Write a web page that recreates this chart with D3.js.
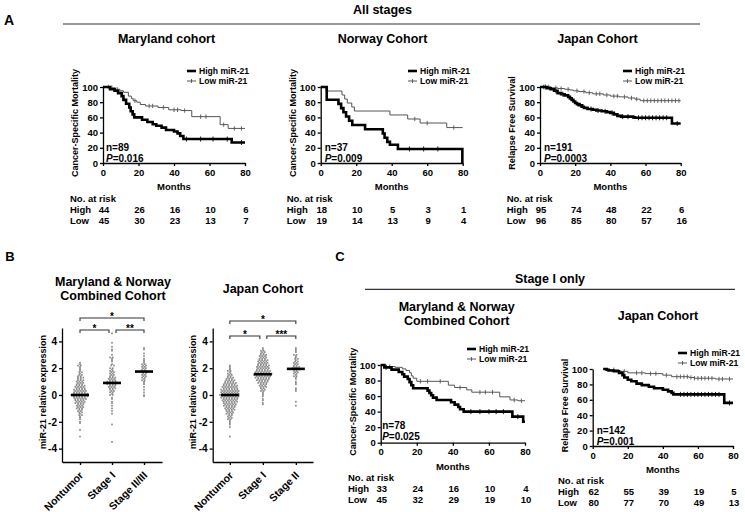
<!DOCTYPE html>
<html><head><meta charset="utf-8">
<script src="https://cdn.jsdelivr.net/npm/d3@7"></script>
<style>
body{margin:0;background:#fff}
svg{display:block;font-family:"Liberation Sans",Arial,Helvetica,sans-serif;font-weight:bold}
</style></head><body><svg id="c" width="745" height="512"></svg>
<script>
// ---------------- DATA ----------------
const kmXTicks = [0, 20, 40, 60, 80];
const kmYTicks = [0, 20, 40, 60, 80, 100];
const riskTimes = [0, 20, 40, 60, 80];

// Panel A – Maryland cohort (month, %)
const mdHigh = [[0,100],[4,97],[6.5,95],[8.5,92],[10.5,88],[11.5,83],[13,78],[14.8,73],[15.6,68],[16.7,64],[17.6,60],[22,57],[25,54],[28,51],[30,49],[33,46.5],[35.5,43.5],[40,41.5],[42,39],[43.5,35.5],[45.3,31.5],[72.5,27],[80,27]];
const mdLow = [[0,100],[4,99],[7,97],[9.5,95],[11.5,93],[14.3,88],[16,85],[17,82],[19,80],[21,77],[24,75],[31,73],[37,70],[44,69],[50,61],[66,50.5],[70.5,45.5],[80,45.5]];
const mdHighCens = [47, 55, 62, 70, 78];
const mdLowCens = [3, 5, 8, 18, 26, 28, 34, 40, 42, 46, 55, 58, 68, 74, 78];
const mdRiskHigh = [44, 26, 16, 10, 6];
const mdRiskLow = [45, 30, 23, 13, 7];

// Panel A – Norway cohort
const noHigh = [[0,100],[3.4,83.3],[10,77.8],[11.5,72.2],[12.8,66.7],[14.3,61.1],[16,55.6],[17.8,50],[25,44.4],[35,38.9],[36,33.3],[37.5,27.8],[39,24],[43.5,18.5],[79.8,0]];
const noLow = [[0,100],[3,94.7],[12,89.5],[13.5,84.2],[15,78.9],[17.5,73.7],[19,68.4],[39,63.2],[49,57.9],[56,52.6],[71,46.6],[80,46.6]];
const noHighCens = [50, 58, 66];
const noLowCens = [53, 60, 75];
const noRiskHigh = [18, 10, 5, 3, 1];
const noRiskLow = [19, 14, 13, 9, 4];

// Panel A – Japan cohort
const jpHigh = [[0,100],[4,98.5],[6,97],[8,95],[10,92],[12,90.5],[14,89],[16,87],[17,85],[18,83],[19,81],[20,79],[21,77.5],[22,76],[24,74],[25,72.5],[27,71],[30,70],[32,69],[35,68],[38,67],[40,66],[42,64],[44,62],[46,61],[53,60],[54,59.5],[75,52],[80,52]];
const jpLow = [[0,100],[6,99],[10,98],[14,97],[17,96],[19,95],[22,94],[26,92.5],[30,91],[36,89.5],[40,88],[45,87],[50,85.5],[54,84],[57,82],[80,82]];
const jpHighCens = [3, 9, 13, 23, 29, 33, 37, 41, 47, 50, 56, 58, 60, 62, 64, 66, 68, 70, 72, 78];
const jpLowCens = [2, 5, 9, 12, 16, 21, 25, 28, 32, 34, 38, 42, 44, 48, 52, 55, 59, 61, 63, 65, 67, 69, 71, 73, 75, 77, 79];
const jpRiskHigh = [95, 74, 48, 22, 6];
const jpRiskLow = [96, 85, 80, 57, 16];

// Panel C – Maryland & Norway combined, stage I
const cmHigh = [[0,100],[2,97],[6,94],[10,91],[12,88],[13,85],[15,82],[16,78],[17,74],[18,70],[26,67],[27,64],[28,61],[29,58],[31,55],[39,52],[41,49],[43,46],[44,43],[46,40],[73,33.5],[79,27],[80,27]];
const cmLow = [[0,100],[3,98],[8,97],[12,95],[14,93],[16,90],[17,86],[18,83],[20,79],[37.5,74],[41,71],[47.7,68],[50.5,65],[66,59],[71.7,55],[76,54],[80,54]];
const cmHighCens = [3, 50, 55, 60, 64, 68, 76];
const cmLowCens = [5, 22, 26, 33, 44, 55, 58, 62, 74, 78];
const cmRiskHigh = [33, 24, 16, 10, 4];
const cmRiskLow = [45, 32, 29, 19, 10];

// Panel C – Japan, stage I
const cjHigh = [[6,100],[8,99],[9,98],[12,97],[15,95],[17,92],[18,89],[20,86],[22,84],[25,81],[28,79],[32,77],[35,75],[40,73],[43,71],[45,69],[46,67],[75,56],[80,56]];
const cjLow = [[6,100],[8,99.5],[10,99],[15,97],[20,95],[30,94],[40,92],[45,90],[55,89],[58,88],[70,87],[80,87]];
const cjHighCens = [50, 52, 54, 56, 58, 60, 62, 64, 66, 68, 70, 72, 78];
const cjLowCens = [12, 18, 25, 28, 33, 36, 42, 48, 50, 52, 54, 56, 58, 60, 62, 64, 66, 68, 72, 74, 78];
const cjRiskHigh = [62, 55, 39, 19, 5];
const cjRiskLow = [80, 77, 70, 49, 13];

// Panel B – dot plots: [value, number of dots at that value]
const bCatsMN = ["Nontumor", "Stage I", "Stage II/III"];
const bCatsJP = ["Nontumor", "Stage I", "Stage II"];
const mnNontumor = [[2.4,1],[2.3,1],[2.2,2],[2.1,1],[2.0,1],[1.9,1],[1.8,1],[1.7,2],[1.6,1],[1.5,2],[1.4,2],[1.3,3],[1.2,2],[1.1,3],[1.0,3],[0.9,3],[0.8,3],[0.7,4],[0.6,4],[0.5,4],[0.4,5],[0.3,5],[0.2,5],[0.1,6],[0.0,7],[-0.1,6],[-0.2,5],[-0.3,5],[-0.4,4],[-0.5,4],[-0.6,4],[-0.7,3],[-0.8,3],[-0.9,3],[-1.0,3],[-1.1,2],[-1.2,2],[-1.3,2],[-1.4,1],[-1.5,2],[-1.6,1],[-1.7,1],[-1.8,1],[-2.0,1],[-2.1,1],[-2.6,1],[-3.1,1]];
const mnStageI = [[4.6,1],[3.9,1],[3.6,1],[3.4,1],[3.3,1],[3.0,1],[2.8,2],[2.7,1],[2.6,1],[2.5,1],[2.3,1],[2.2,2],[2.0,2],[1.9,1],[1.8,2],[1.7,2],[1.6,2],[1.5,2],[1.4,2],[1.3,3],[1.2,3],[1.1,3],[1.0,4],[0.9,4],[0.8,4],[0.7,3],[0.6,3],[0.5,3],[0.4,2],[0.3,2],[0.2,2],[0.1,1],[0.0,2],[-0.2,1],[-0.3,1],[-0.5,1],[-0.6,1],[-0.8,1],[-1.0,1],[-1.2,1],[-1.4,1],[-2.2,1],[-3.5,1]];
const mnStageII = [[3.5,1],[3.4,1],[3.1,1],[2.9,1],[2.7,1],[2.6,1],[2.5,1],[2.4,1],[2.3,2],[2.2,2],[2.1,2],[2.0,2],[1.9,2],[1.8,3],[1.7,3],[1.6,2],[1.5,2],[1.4,2],[1.3,2],[1.2,1],[1.1,2],[1.0,1],[0.9,1],[0.8,1],[0.6,1],[0.4,1],[0.2,1],[0.0,1],[-0.1,1]];
const jpNontumor = [[2.2,1],[2.1,1],[2.0,1],[1.9,1],[1.8,2],[1.7,1],[1.6,2],[1.5,2],[1.4,2],[1.3,3],[1.2,3],[1.1,4],[1.0,4],[0.9,5],[0.8,5],[0.7,6],[0.6,6],[0.5,6],[0.4,7],[0.3,7],[0.2,7],[0.1,7],[0.0,8],[-0.1,7],[-0.2,7],[-0.3,6],[-0.4,6],[-0.5,6],[-0.6,5],[-0.7,5],[-0.8,5],[-0.9,4],[-1.0,4],[-1.1,4],[-1.2,3],[-1.3,3],[-1.4,3],[-1.5,2],[-1.6,2],[-1.7,2],[-1.8,2],[-1.9,1],[-2.0,1],[-2.1,1],[-2.2,1],[-2.4,1],[-3.1,1]];
const jpStageI = [[3.5,1],[3.4,1],[3.3,2],[3.2,2],[3.1,2],[3.0,3],[2.9,3],[2.8,3],[2.7,3],[2.6,4],[2.5,4],[2.4,4],[2.3,4],[2.2,5],[2.1,5],[2.0,5],[1.9,5],[1.8,6],[1.7,6],[1.6,7],[1.5,7],[1.4,6],[1.3,6],[1.2,5],[1.1,5],[1.0,4],[0.9,4],[0.8,3],[0.7,3],[0.6,3],[0.5,2],[0.4,2],[0.3,2],[0.2,1],[0.1,1],[0.0,1],[-0.1,1],[-0.3,1],[-0.4,1],[-0.6,1],[-0.7,1]];
const jpStageII = [[3.5,1],[3.4,1],[3.3,1],[3.2,1],[3.0,2],[2.9,1],[2.8,1],[2.7,2],[2.6,1],[2.5,2],[2.4,2],[2.3,2],[2.2,2],[2.1,3],[2.0,3],[1.9,3],[1.8,2],[1.7,2],[1.6,2],[1.5,1],[1.4,2],[1.3,1],[1.2,1],[1.0,1],[0.9,1],[0.8,1],[0.5,1],[0.4,1],[0.3,1],[-0.5,1],[-0.8,1]];
const mnMeans = [0, 0.9, 1.75];
const jpMeans = [0, 1.55, 1.95];
const bYTicks = [-4, -2, 0, 2, 4];
const mnSig = [["Nontumor","Stage I","*"],["Stage I","Stage II/III","**"],["Nontumor","Stage II/III","*"]];
const jpSig = [["Nontumor","Stage I","*"],["Stage I","Stage II","***"],["Nontumor","Stage II","*"]];

// ---------------- DRAWING ----------------
const svg = d3.select("#c");
svg.append("rect").attr("width",745).attr("height",512).attr("fill","#fff");

function txt(x, y, s, size, anchor) {
  return svg.append("text").attr("x", x).attr("y", y).attr("font-size", size)
    .attr("text-anchor", anchor || "start").attr("fill", "#000").text(s);
}
function styleAxis(g, fs) {
  g.select(".domain").attr("stroke", "#000").attr("stroke-width", 1.3);
  g.selectAll(".tick line").attr("stroke", "#000").attr("stroke-width", 1.3);
  g.selectAll(".tick text").attr("font-size", fs).attr("font-weight", "bold").attr("fill", "#000")
    .attr("font-family", '"Liberation Sans",Arial,sans-serif');
}
function stepVal(curve, t) {
  let v = curve[0][1];
  for (const p of curve) if (p[0] <= t) v = p[1];
  return v;
}

function km(o) {
  const x = d3.scaleLinear().domain([0, 80]).range([o.x0, o.x1]);
  const y = d3.scaleLinear().domain([0, 100]).range([o.yb, o.yt]);
  const line = d3.line().x(d => x(d[0])).y(d => y(d[1])).curve(d3.curveStepAfter);
  svg.append("path").datum(o.low).attr("d", line).attr("fill", "none").attr("stroke", "#555").attr("stroke-width", 1);
  svg.append("g").selectAll("line").data(o.lowC).join("line")
    .attr("x1", d => x(d)).attr("x2", d => x(d))
    .attr("y1", d => y(stepVal(o.low, d)) - 2.2).attr("y2", d => y(stepVal(o.low, d)) + 2.2)
    .attr("stroke", "#555").attr("stroke-width", 0.9);
  svg.append("path").datum(o.high).attr("d", line).attr("fill", "none").attr("stroke", "#000").attr("stroke-width", 2.6);
  svg.append("g").selectAll("line").data(o.highC).join("line")
    .attr("x1", d => x(d)).attr("x2", d => x(d))
    .attr("y1", d => y(stepVal(o.high, d)) - 2.5).attr("y2", d => y(stepVal(o.high, d)) + 2.5)
    .attr("stroke", "#000").attr("stroke-width", 0.9);

  const ax = svg.append("g").attr("transform", `translate(0,${o.yb})`)
    .call(d3.axisBottom(x).tickValues(kmXTicks).tickSize(3).tickPadding(3).tickSizeOuter(0));
  styleAxis(ax, 9.5);
  const ay = svg.append("g").attr("transform", `translate(${o.x0},0)`)
    .call(d3.axisLeft(y).tickValues(kmYTicks).tickSize(3).tickPadding(2).tickSizeOuter(0));
  styleAxis(ay, 9.5);

  o.title.forEach((s, i) => txt(o.tx, o.ty + i * 14, s, 12.5, "middle"));
  svg.append("text").attr("transform", `translate(${o.x0 - 25},${(o.yt + o.yb) / 2 - 2}) rotate(-90)`)
    .attr("text-anchor", "middle").attr("font-size", 9).text(o.ylab);
  txt((o.x0 + o.x1) / 2, o.yb + 27, "Months", 9.5, "middle");
  const lx = o.lx, ly = o.ly;
  svg.append("line").attr("x1", lx).attr("x2", lx + 9).attr("y1", ly).attr("y2", ly).attr("stroke", "#000").attr("stroke-width", 2.6);
  svg.append("line").attr("x1", lx).attr("x2", lx + 9).attr("y1", ly + 10).attr("y2", ly + 10).attr("stroke", "#555").attr("stroke-width", 1);
  svg.append("line").attr("x1", lx + 4.5).attr("x2", lx + 4.5).attr("y1", ly + 8).attr("y2", ly + 12).attr("stroke", "#555").attr("stroke-width", 0.9);
  txt(lx + 12, ly + 3, "High miR-21", 8.6);
  txt(lx + 12, ly + 13, "Low miR-21", 8.6);
  txt(o.x0 + o.nx, o.ny, o.n, 10);
  const p = txt(o.x0 + o.nx, o.ny + 10.5, "", 10);
  p.append("tspan").attr("font-style", "italic").text("P");
  p.append("tspan").text("=" + o.p);
  txt(o.rx, o.ry, "No. at risk", 9.5);
  txt(o.rx, o.ry + 11, "High", 9.5);
  txt(o.rx, o.ry + 22, "Low", 9.5);
  riskTimes.forEach((t, i) => {
    txt(x(t) + 1, o.ry + 11, o.rh[i], 9.5, "middle");
    txt(x(t) + 1, o.ry + 22, o.rl[i], 9.5, "middle");
  });
}

// Panel A
txt(9, 25, "A", 14, "middle");
txt(382.5, 14, "All stages", 12.5, "middle");
svg.append("line").attr("x1", 63).attr("x2", 700).attr("y1", 24).attr("y2", 24).attr("stroke", "#333").attr("stroke-width", 1.2);

km({x0:103, x1:245, yt:87, yb:163, high:mdHigh, low:mdLow, highC:mdHighCens, lowC:mdLowCens,
    title:["Maryland cohort"], tx:166.5, ty:43, ylab:"Cancer-Specific Mortality", lx:187, ly:71,
    n:"n=89", p:"0.016", nx:3, ny:151, rx:70, ry:201.5, rh:mdRiskHigh, rl:mdRiskLow});
km({x0:320.7, x1:462.7, yt:87, yb:163, high:noHigh, low:noLow, highC:noHighCens, lowC:noLowCens,
    title:["Norway Cohort"], tx:382.5, ty:43, ylab:"Cancer-Specific Mortality", lx:408, ly:71,
    n:"n=37", p:"0.009", nx:4, ny:151, rx:286.7, ry:201.5, rh:noRiskHigh, rl:noRiskLow});
km({x0:540, x1:680.7, yt:87, yb:163, high:jpHigh, low:jpLow, highC:jpHighCens, lowC:jpLowCens,
    title:["Japan Cohort"], tx:597.5, ty:43, ylab:"Relapse Free Survival", lx:623, ly:71,
    n:"n=191", p:"0.0003", nx:4, ny:151, rx:506.7, ry:201.5, rh:jpRiskHigh, rl:jpRiskLow});

// Panel C
txt(340, 261, "C", 13, "middle");
txt(550, 283, "Stage I only", 12.5, "middle");
svg.append("line").attr("x1", 365).attr("x2", 735).attr("y1", 289.3).attr("y2", 289.3).attr("stroke", "#333").attr("stroke-width", 1.2);
km({x0:380.7, x1:525, yt:365, yb:442.7, high:cmHigh, low:cmLow, highC:cmHighCens, lowC:cmLowCens,
    title:["Maryland & Norway","Combined Cohort"], tx:456.7, ty:311, ylab:"Cancer-Specific Mortality", lx:467, ly:349,
    n:"n=78", p:"0.025", nx:1.5, ny:429, rx:348, ry:481, rh:cmRiskHigh, rl:cmRiskLow});
km({x0:592.7, x1:733, yt:369, yb:446, high:cjHigh, low:cjLow, highC:cjHighCens, lowC:cjLowCens,
    title:["Japan Cohort"], tx:658, ty:320, ylab:"Relapse Free Survival", lx:678, ly:353,
    n:"n=142", p:"0.001", nx:4, ny:434, rx:558, ry:483.5, rh:cjRiskHigh, rl:cjRiskLow});

// Panel B
txt(10, 261, "B", 13, "middle");
function dots(o) {
  const x = d3.scalePoint().domain(o.cats).range([o.ax, o.axEnd]).padding(o.pad);
  const y = d3.scaleLinear().domain([-5, 5]).range([462, 328]);
  const sp = 2.7;
  o.series.forEach((ser, ci) => {
    const cx = x(o.cats[ci]);
    const pts = [];
    ser.forEach(([v, n], ri) => {
      const shift = (ri % 2) ? 0.6 : -0.6;
      for (let i = 0; i < n; i++) pts.push({v, dx: (i - (n - 1) / 2) * sp + (n > 1 ? shift : 0)});
    });
    svg.append("g").selectAll("rect").data(pts).join("rect")
      .attr("x", d => cx + d.dx - 0.85).attr("y", d => y(d.v) - 0.85).attr("width", 1.7).attr("height", 1.7)
      .attr("fill", "#8c8c8c");
    svg.append("line").attr("x1", cx - 9).attr("x2", cx + 9).attr("y1", y(o.means[ci])).attr("y2", y(o.means[ci]))
      .attr("stroke", "#000").attr("stroke-width", 2.6);
  });
  const ay = svg.append("g").attr("transform", `translate(${o.ax},0)`)
    .call(d3.axisLeft(y).tickValues(bYTicks).tickFormat(d => String(d)).tickSize(3).tickPadding(2).tickSizeOuter(0));
  styleAxis(ay, 10);
  const axb = svg.append("g").attr("transform", `translate(0,462)`)
    .call(d3.axisBottom(x).tickSize(3).tickFormat("").tickSizeOuter(0));
  styleAxis(axb, 10);
  o.cats.forEach(c => {
    svg.append("text").attr("transform", `translate(${x(c) + 4},476) rotate(-45)`)
      .attr("text-anchor", "end").attr("font-size", 10.5).text(c);
  });
  svg.append("text").attr("transform", `translate(${o.ax - 16.5},392) rotate(-90)`)
    .attr("text-anchor", "middle").attr("font-size", 9).text("miR-21 relative expression");
  o.sig.forEach(([a, b, s], i) => {
    const top = i === 2;
    const yy = top ? o.bTop : o.bLow;
    let x1 = x(a), x2 = x(b);
    if (!top) { if (i === 0) x2 -= 3; else x1 += 4; }
    svg.append("path").attr("d", `M${x1},${yy + 3}V${yy}H${x2}V${yy + 3}`)
      .attr("fill", "none").attr("stroke", "#333").attr("stroke-width", 1.1);
    txt((x1 + x2) / 2, yy + 1.5, s, 10, "middle");
  });
  o.title.forEach((s, i) => txt(o.tx, o.ty + i * 14, s, 12.5, "middle"));
}
dots({cats:bCatsMN, ax:62, axEnd:162, pad:0.5625, series:[mnNontumor, mnStageI, mnStageII], means:mnMeans,
      sig:mnSig, bLow:330, bTop:318, title:["Maryland & Norway","Combined Cohort"], tx:113, ty:286});
dots({cats:bCatsJP, ax:212.7, axEnd:313, pad:0.52, series:[jpNontumor, jpStageI, jpStageII], means:jpMeans,
      sig:jpSig, bLow:336, bTop:321, title:["Japan Cohort"], tx:263, ty:293});
</script></body></html>
